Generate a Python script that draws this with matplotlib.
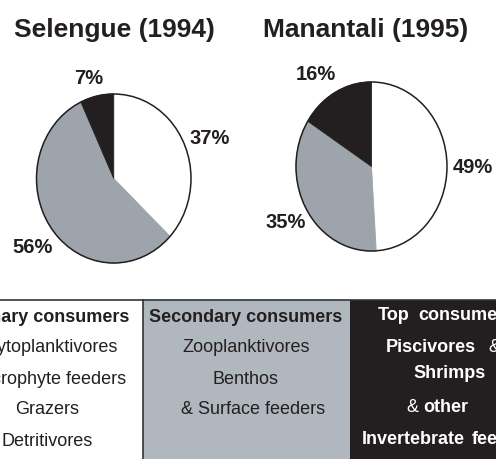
import matplotlib
matplotlib.use("Agg")
import matplotlib.pyplot as plt
from matplotlib.patches import Rectangle, Circle

plt.rcParams['font.family'] = ['Liberation Sans', 'DejaVu Sans']

# ---- data ----
sites = ["Selengue (1994)", "Manantali (1995)"]
selengue_shares = [37, 56, 7]      # primary, secondary, top consumers
manantali_shares = [49, 35, 16]
categories = ["Primary consumers", "Secondary consumers", "Top consumers"]
primary_items = ["Phytoplanktivores", "Macrophyte feeders", "Grazers", "Detritivores"]
secondary_items = ["Zooplanktivores", "Benthos", "& Surface feeders"]
top_items = ["Piscivores &", "Shrimps", "& other", "Invertebrate feeders"]

# ---- style ----
W, H = 496, 459
C_WHITE = "#ffffff"
C_GRAY = "#9ea4ab"
C_BLACK = "#231f20"
C_TAB_GRAY = "#b1b7bf"
colors = [C_WHITE, C_GRAY, C_BLACK]

fig = plt.figure(figsize=(W / 100, H / 100), dpi=100)
bg = fig.add_axes([0, 0, 1, 1])
bg.set_xlim(0, W)
bg.set_ylim(H, 0)
bg.axis("off")

# table
tab_top = 300
col_edges = [-63, 143, 350, 560]
col_fill = [C_WHITE, C_TAB_GRAY, C_BLACK]
for i in range(3):
    bg.add_patch(Rectangle((col_edges[i], tab_top), col_edges[i + 1] - col_edges[i],
                           H - tab_top + 5, facecolor=col_fill[i], edgecolor="none", zorder=1))
bg.plot([0, W], [tab_top, tab_top], color="#333333", lw=1.2, zorder=3)
bg.plot([143, 143], [tab_top, H], color="#333333", lw=1.2, zorder=3)

row_y = [348, 379, 410, 442]
head_y = 317
fs_head = 13
fs_body = 13

# column 1
bg.text(45.5, head_y, categories[0], ha="center", va="center", fontsize=fs_head,
        fontweight="bold", color=C_BLACK, zorder=4)
for t, y in zip(primary_items, row_y):
    bg.text(47, y, t, ha="center", va="center", fontsize=fs_body, color=C_BLACK, zorder=4)

# column 2
c2 = 246
bg.text(c2, head_y, categories[1], ha="center", va="center", fontsize=fs_head,
        fontweight="bold", color=C_BLACK, zorder=4)
for t, y in zip(secondary_items, row_y[:3]):
    bg.text(c2 + (7 if t.startswith("&") else 0), y, t, ha="center", va="center",
            fontsize=fs_body, color=C_BLACK, zorder=4)

# column 3 (loosely spaced words, white on black)
def spaced(words, xs, y, bold_flags):
    for w_, x_, b_ in zip(words, xs, bold_flags):
        bg.text(x_, y, w_, ha="left", va="center", fontsize=fs_body,
                fontweight="bold" if b_ else "normal", color="white", zorder=4)

head_words = categories[2].split(" ")
spaced(head_words, [378, 418], 316, [True, True])
top_word_x = [[386, 488], [413], [406, 423], [362, 472]]
top_word_bold = [[True, False], [True], [False, True], [True, True]]
top_y = [348, 374, 407, 439]
for t, xs, bf, y in zip(top_items, top_word_x, top_word_bold, top_y):
    spaced(t.split(" "), xs, y, bf)

# titles
title_x = [114, 366]
for s, x in zip(sites, title_x):
    bg.text(x, 30, s, ha="center", va="center", fontsize=19, fontweight="bold",
            color=C_BLACK, zorder=4)

# pies
pie_boxes = [(36.5, 94, 191, 263), (296, 82, 447, 251)]
label_pos = [
    [(1.247, 0.476), (-1.05, -0.82), (-0.325, 1.18)],
    [(1.34, -0.01), (-1.14, -0.66), (-0.74, 1.09)],
]
for shares, (x0, y0, x1, y1), lp in zip([selengue_shares, manantali_shares], pie_boxes, label_pos):
    ax = fig.add_axes([x0 / W, (H - y1) / H, (x1 - x0) / W, (y1 - y0) / H])
    wedges, _ = ax.pie(shares, colors=colors, startangle=90, counterclock=False,
                       wedgeprops=dict(linewidth=0))
    for w, c in zip(wedges, colors):
        w.set_edgecolor(c)
        w.set_linewidth(0.6)
    ax.set_aspect("auto")
    ax.set_xlim(-1, 1)
    ax.set_ylim(-1, 1)
    ax.add_patch(Circle((0, 0), 1.0, fill=False, edgecolor=C_BLACK, lw=1.1, clip_on=False))
    for v, (px, py) in zip(shares, lp):
        ax.text(px, py, f"{v}%", ha="center", va="center", fontsize=14.5, fontweight="bold",
                color=C_BLACK, clip_on=False)
    ax.axis("off")

fig.savefig("out.png", dpi=100)
